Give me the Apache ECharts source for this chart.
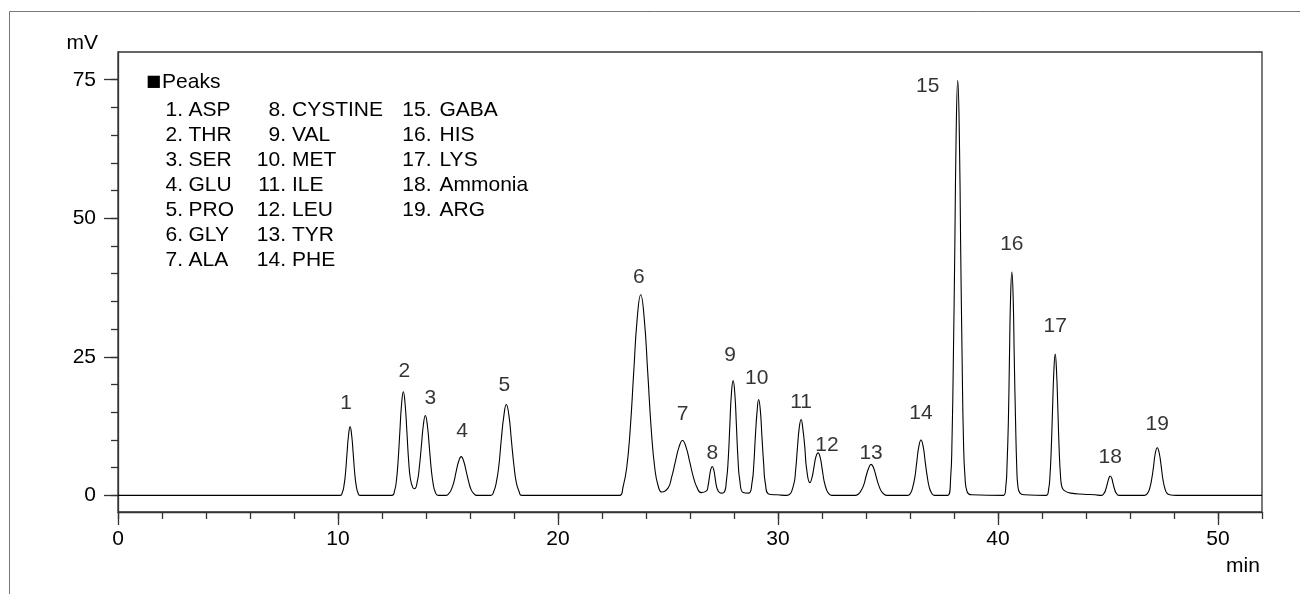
<!DOCTYPE html>
<html>
<head>
<meta charset="utf-8">
<script src="https://cdn.jsdelivr.net/npm/echarts@6/dist/echarts.min.js"></script>
<style>
  html, body { margin: 0; padding: 0; background: #fff; }
  #chart { width: 1300px; height: 594px; }
</style>
</head>
<body>
<div id="chart"></div>
<script>
// chromatogram trace, [min, mV]
const signal = [
  [0, 0],
  [10.1, 0], [10.2, 0.55], [10.27, 1.7], [10.34, 4.0], [10.41, 7.6], [10.48, 10.9], [10.55, 12.4], [10.62, 10.9], [10.69, 7.6], [10.76, 4.0], [10.83, 1.7], [10.9, 0.55], [11.0, 0],
  [12.45, 0], [12.57, 0.8], [12.65, 2.5], [12.73, 6.1], [12.81, 11.4], [12.89, 16.5], [12.97, 18.7], [13.05, 16.5], [13.13, 11.6], [13.21, 6.3], [13.29, 3.0], [13.4, 1.4], [13.48, 1.2],
  [13.61, 2.6], [13.7, 5.2], [13.79, 8.9], [13.88, 12.7], [13.97, 14.4], [14.06, 12.7], [14.15, 8.8], [14.24, 4.7], [14.33, 2.0], [14.42, 0.6], [14.55, 0],
  [14.9, 0], [15.03, 0.3], [15.14, 0.95], [15.26, 2.3], [15.37, 4.3], [15.49, 6.2], [15.6, 7.0], [15.71, 6.2], [15.83, 4.3], [15.95, 2.3], [16.06, 0.95], [16.18, 0.3], [16.3, 0],
  [16.95, 0], [17.08, 0.7], [17.19, 2.2], [17.31, 5.3], [17.42, 10.0], [17.54, 14.4], [17.65, 16.4], [17.77, 14.4], [17.88, 10.0], [18.0, 5.3], [18.11, 2.2], [18.23, 0.7], [18.35, 0],
  [22.8, 0], [22.96, 1.6], [23.12, 4.9], [23.28, 11.8], [23.44, 22.1], [23.6, 31.9], [23.76, 36.2], [23.92, 31.9], [24.08, 22.1], [24.24, 11.8], [24.4, 4.9], [24.56, 1.6], [24.72, 0.6],
  [25.0, 1.3], [25.16, 3.2], [25.33, 6.0], [25.5, 8.7], [25.66, 9.9], [25.82, 8.7], [25.99, 6.0], [26.16, 3.2], [26.32, 1.4], [26.5, 0.5],
  [26.75, 0.8], [26.82, 1.7], [26.88, 3.2], [26.94, 4.6], [27.01, 5.2], [27.08, 4.6], [27.14, 3.2], [27.2, 1.7], [27.27, 0.9], [27.4, 0.4], [27.54, 0.5],
  [27.66, 2.8], [27.74, 6.7], [27.81, 12.6], [27.88, 18.2], [27.96, 20.7], [28.04, 18.2], [28.11, 12.6], [28.18, 6.7], [28.26, 2.8], [28.42, 0.5],
  [28.67, 0.4], [28.82, 2.3], [28.9, 5.6], [28.97, 10.6], [29.05, 15.2], [29.12, 17.3], [29.2, 15.2], [29.27, 10.6], [29.35, 5.6], [29.42, 2.3], [29.6, 0.2], [29.97, 0.1],
  [30.4, 0], [30.71, 1.9], [30.8, 4.5], [30.88, 8.4], [30.96, 12.0], [31.05, 13.7], [31.13, 12.0], [31.22, 8.6], [31.3, 4.8], [31.45, 2.3],
  [31.55, 3.3], [31.63, 5.0], [31.72, 6.9], [31.82, 7.7], [31.92, 6.8], [32.01, 4.7], [32.1, 2.5], [32.2, 1.1], [32.3, 0.34], [32.45, 0],
  [33.5, 0], [33.66, 0.25], [33.77, 0.8], [33.89, 1.8], [34.0, 3.4], [34.12, 4.9], [34.23, 5.6], [34.35, 4.9], [34.46, 3.4], [34.58, 1.8], [34.69, 0.8], [34.81, 0.25], [34.95, 0],
  [35.9, 0], [36.03, 0.44], [36.12, 1.4], [36.22, 3.25], [36.31, 6.1], [36.4, 8.8], [36.5, 10.0], [36.6, 8.8], [36.69, 6.1], [36.79, 3.25], [36.88, 1.4], [36.98, 0.44], [37.1, 0],
  [37.72, 0], [37.85, 3.3], [37.91, 10.1], [37.97, 24.3], [38.04, 45.7], [38.1, 65.9], [38.17, 74.9], [38.24, 65.9], [38.3, 45.7], [38.37, 24.3], [38.43, 10.1], [38.5, 3.3], [38.6, 0.6], [38.8, 0.1],
  [40.25, 0], [40.36, 1.8], [40.41, 5.4], [40.47, 13.1], [40.52, 24.6], [40.57, 35.5], [40.63, 40.3], [40.69, 35.5], [40.74, 24.6], [40.8, 13.1], [40.85, 5.4], [40.9, 1.8], [41.0, 0.4], [41.2, 0.1],
  [42.2, 0], [42.3, 1.1], [42.36, 3.4], [42.42, 8.3], [42.48, 15.6], [42.54, 22.5], [42.6, 25.5], [42.66, 22.5], [42.72, 15.6], [42.78, 8.3], [42.84, 3.6], [42.9, 1.6], [43.0, 0.9], [43.3, 0.4], [43.9, 0.2], [44.4, 0.1],
  [44.7, 0], [44.84, 0.5], [44.9, 1.1], [44.97, 2.1], [45.04, 3.1], [45.1, 3.5], [45.17, 3.1], [45.23, 2.1], [45.3, 1.1], [45.36, 0.5], [45.5, 0],
  [46.65, 0], [46.8, 0.4], [46.89, 1.2], [46.98, 2.8], [47.07, 5.2], [47.15, 7.6], [47.24, 8.6], [47.33, 7.6], [47.42, 5.2], [47.5, 2.8], [47.59, 1.2], [47.68, 0.4], [47.8, 0.1], [48.1, 0],
  [52, 0]
];

// peak apexes
const peakNames = ["ASP", "THR", "SER", "GLU", "PRO", "GLY", "ALA", "CYSTINE", "VAL", "MET",
  "ILE", "LEU", "TYR", "PHE", "GABA", "HIS", "LYS", "Ammonia", "ARG"];
const peakTime = [10.55, 12.97, 13.97, 15.6, 17.65, 23.76, 25.66, 27.01, 27.96, 29.12,
  31.05, 31.82, 34.23, 36.5, 38.17, 40.63, 42.6, 45.1, 47.24];
const peakMv = [12.4, 18.7, 14.4, 7.0, 16.4, 36.2, 9.9, 5.2, 20.7, 17.3,
  13.7, 7.7, 5.6, 10.0, 74.9, 40.3, 25.5, 3.5, 8.6];

// axis ticks
const timeTicks = [0, 10, 20, 30, 40, 50];
const timeMinorTicks = [0, 2, 4, 6, 8, 10, 12, 14, 16, 18, 20, 22, 24, 26, 28, 30, 32, 34, 36, 38, 40, 42, 44, 46, 48, 50, 52];
const mvTicks = [0, 25, 50, 75];
const mvMinorTicks = [0, 5, 10, 15, 20, 25, 30, 35, 40, 45, 50, 55, 60, 65, 70, 75];

// where each peak number sits relative to its apex (px)
const labelNudge = [[-4, -23], [1, -21], [5, -17], [1, -25], [-2, -19], [-2, -18], [0, -26], [0, -13], [-3, -25], [-2, -21],
  [0, -17], [9, -7], [0, -11], [0, -27], [-30, 6], [0, -28], [0, -28], [0, -19], [0, -24]];

const font = "'Liberation Sans', Arial, sans-serif";
const fs = 21;

const chart = echarts.init(document.getElementById("chart"));

// text block with the peak list, 3 columns
const legendCols = [
  { start: 0, end: 7, numRight: 183, nameLeft: 188.5 },
  { start: 7, end: 14, numRight: 286, nameLeft: 292 },
  { start: 14, end: 19, numRight: 431.5, nameLeft: 439.5 }
];
const legendText = [
  {
    type: "text", x: 146, y: 82,
    style: {
      text: "{sq|\u25A0}Peaks", font: fs + "px " + font, fill: "#000", textVerticalAlign: "middle",
      rich: { sq: { fontFamily: "'DejaVu Sans'", fontSize: 16, fill: "#000", padding: [0, 1, 0, 0] } }
    }
  }
];
legendCols.forEach((c) => {
  for (let i = c.start; i < c.end; i++) {
    const y = 110.5 + (i - c.start) * 24.9;
    legendText.push({
      type: "text", x: c.numRight, y: y,
      style: { text: (i + 1) + ".", font: fs + "px " + font, fill: "#000", textAlign: "right", textVerticalAlign: "middle" }
    });
    legendText.push({
      type: "text", x: c.nameLeft, y: y,
      style: { text: peakNames[i], font: fs + "px " + font, fill: "#000", textAlign: "left", textVerticalAlign: "middle" }
    });
  }
});

const option = {
  animation: false,
  backgroundColor: "#fff",
  textStyle: { fontFamily: font },
  grid: [
    { left: 118, top: 52, width: 1144, height: 460, show: true, borderColor: "#333", borderWidth: 1.3 },
    { left: 118, top: 52, width: 1144, height: 460 }
  ],
  xAxis: [
    {
      type: "value", gridIndex: 0, min: 0, max: 52,
      axisLine: { show: true, onZero: false, lineStyle: { color: "#333", width: 1.3 } },
      axisTick: { show: true, length: 13, customValues: timeTicks, lineStyle: { color: "#333", width: 1.3 } },
      axisLabel: { customValues: timeTicks, margin: 17, color: "#000", fontSize: fs, fontFamily: font },
      splitLine: { show: false }
    },
    {
      type: "value", gridIndex: 1, min: 0, max: 52,
      axisLine: { show: false, onZero: false },
      axisTick: { show: true, length: 7, customValues: timeMinorTicks, lineStyle: { color: "#333", width: 1.3 } },
      axisLabel: { show: false },
      splitLine: { show: false }
    }
  ],
  yAxis: [
    {
      type: "value", gridIndex: 0, min: -3, max: 80,
      axisLine: { show: true, onZero: false, lineStyle: { color: "#333", width: 1.3 } },
      axisTick: { show: true, length: 14, customValues: mvTicks, lineStyle: { color: "#333", width: 1.3 } },
      axisLabel: { customValues: mvTicks, margin: 22, color: "#000", fontSize: fs, fontFamily: font },
      splitLine: { show: false }
    },
    {
      type: "value", gridIndex: 1, min: -3, max: 80,
      axisLine: { show: false, onZero: false },
      axisTick: { show: true, length: 7, customValues: mvMinorTicks, lineStyle: { color: "#333", width: 1.3 } },
      axisLabel: { show: false },
      splitLine: { show: false }
    }
  ],
  graphic: [
    // outer frame (top and left edges only)
    { type: "polyline", shape: { points: [[9.5, 594], [9.5, 11.5], [1300, 11.5]] }, style: { stroke: "#777", lineWidth: 1, fill: null } },
    { type: "text", x: 98, y: 43, style: { text: "mV", font: fs + "px " + font, fill: "#000", textAlign: "right", textVerticalAlign: "middle" } },
    { type: "text", x: 1243, y: 566, style: { text: "min", font: fs + "px " + font, fill: "#000", textAlign: "center", textVerticalAlign: "middle" } }
  ].concat(legendText),
  series: [
    {
      type: "line",
      xAxisIndex: 0, yAxisIndex: 0,
      data: signal,
      showSymbol: false,
      smooth: 0.5,
      lineStyle: { color: "#000", width: 1.1 },
      silent: true,
      z: 2
    },
    {
      type: "scatter",
      xAxisIndex: 0, yAxisIndex: 0,
      symbolSize: 1,
      itemStyle: { color: "rgba(0,0,0,0)" },
      data: peakTime.map((t, i) => ({ value: [t, peakMv[i]], label: { offset: labelNudge[i] } })),
      label: {
        show: true, position: "inside", color: "#000",
        fontSize: fs, fontFamily: font,
        formatter: (p) => String(p.dataIndex + 1)
      },
      silent: true,
      z: 3
    }
  ]
};

chart.setOption(option);
</script>
</body>
</html>
